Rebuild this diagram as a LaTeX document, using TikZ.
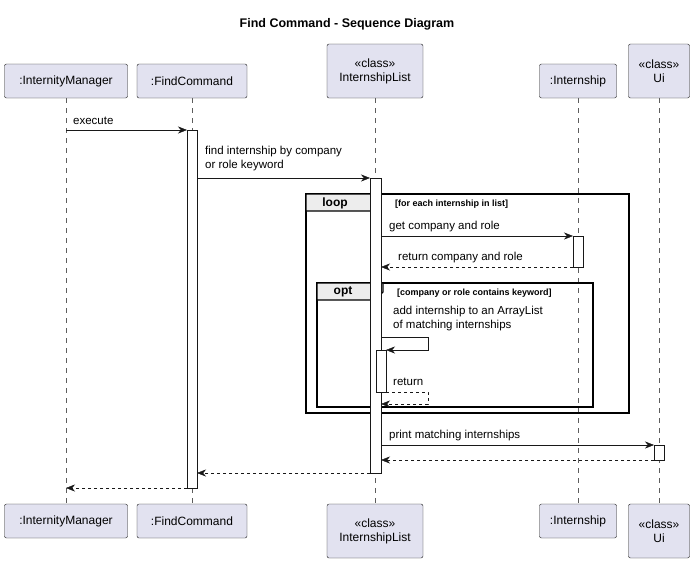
\documentclass[tikz,border=0pt]{standalone}
\usepackage{fontspec}
\setmainfont{Liberation Sans}
\usetikzlibrary{arrows.meta}
\definecolor{pbox}{HTML}{E2E2F0}
\definecolor{pline}{HTML}{181818}
\begin{document}
\begin{tikzpicture}[x=1pt,y=-1pt,
  part/.style={draw=pline,fill=pbox,rounded corners=2pt,align=center,font=\fontsize{12}{14}\selectfont,inner sep=0pt},
  life/.style={draw=pline!70,dashed,dash pattern=on 5pt off 5pt,thin},
  act/.style={draw=pline,fill=white},
  msg/.style={draw=pline,-{Stealth[length=9pt,width=7pt]}},
  ret/.style={msg,dashed,dash pattern=on 3pt off 3pt},
  lab/.style={font=\fontsize{11.5}{14}\selectfont,anchor=west,inner sep=0pt,align=left},
  fr/.style={draw=black,line width=1.3pt},
  grd/.style={font=\bfseries\fontsize{9}{11}\selectfont,anchor=west,inner sep=0pt}]
\useasboundingbox (0,0) rectangle (695,560);
\node[font=\bfseries\fontsize{12.5}{15}\selectfont] (title) at (347,24) {Find Command - Sequence Diagram};
% lifelines
\foreach \x in {66,192,375,578,659}{\draw[life] (\x,98) -- (\x,504);}
% top participants
\node[part,minimum width=123,minimum height=34] (im) at (66,81) {:InternityManager};
\node[part,minimum width=110,minimum height=34] (fc) at (192,81) {:FindCommand};
\node[part,minimum width=96,minimum height=54] (il) at (375,71) {«class»\\InternshipList};
\node[part,minimum width=77,minimum height=34] (in) at (578,81) {:Internship};
\node[part,minimum width=61,minimum height=54] (ui) at (659,71) {«class»\\Ui};
% bottom participants
\node[part,minimum width=123,minimum height=34] (im2) at (66,521) {:InternityManager};
\node[part,minimum width=110,minimum height=34] (fc2) at (192,521) {:FindCommand};
\node[part,minimum width=96,minimum height=54] (il2) at (375,531) {«class»\\InternshipList};
\node[part,minimum width=77,minimum height=34] (in2) at (578,521) {:Internship};
\node[part,minimum width=61,minimum height=54] (ui2) at (659,531) {«class»\\Ui};
% frames
\draw[fr] (306,194) rectangle (629,413);
\draw[fr,fill=black!7] (306,211) -- (306,194) -- (381,194) -- (381,203) -- (372,211) -- cycle;
\node[font=\bfseries\fontsize{12}{14}\selectfont] (lp) at (335,203) {loop};
\node[grd] (lg) at (395,204) {[for each internship in list]};
\draw[fr] (317,283) rectangle (593,407);
\draw[fr,fill=black!7] (317,300) -- (317,283) -- (383,283) -- (383,292) -- (374,300) -- cycle;
\node[font=\bfseries\fontsize{12}{14}\selectfont] (op) at (343,292) {opt};
\node[grd] (og) at (397,293) {[company or role contains keyword]};
% activations
\draw[act] (187,130) rectangle (197,488);
\draw[act] (370,178) rectangle (381,473);
\draw[act] (573,236) rectangle (583,267);
\draw[act] (376,350) rectangle (386,392);
\draw[act] (654,445) rectangle (664,460);
% coordinates
\coordinate (a1) at (66,130); \coordinate (a2) at (187,130);
\coordinate (b1) at (197,178); \coordinate (b2) at (370,178);
\coordinate (c1) at (381,236); \coordinate (c2) at (573,236);
\coordinate (d1) at (573,267); \coordinate (d2) at (381,267);
\coordinate (e1) at (381,337); \coordinate (e2) at (386,350);
\coordinate (f1) at (386,392); \coordinate (f2) at (381,404);
\coordinate (g1) at (381,445); \coordinate (g2) at (654,445);
\coordinate (h1) at (654,460); \coordinate (h2) at (381,460);
\coordinate (i1) at (370,473); \coordinate (i2) at (197,473);
\coordinate (j1) at (187,488); \coordinate (j2) at (66,488);
% messages
\draw[msg] (a1) -- (a2); \node[lab] (la) at (73,121) {execute};
\draw[msg] (b1) -- (b2); \node[lab] (lb) at (205,159) {find internship by company\\or role keyword};
\draw[msg] (c1) -- (c2); \node[lab] (lc) at (389,227) {get company and role};
\draw[ret] (d1) -- (d2); \node[lab] (ld) at (398,258) {return company and role};
\draw[msg] (e1) -- (428,337) -- (428,350) -- (e2); \node[lab] (le) at (393,319) {add internship to an ArrayList\\of matching internships};
\draw[ret] (f1) -- (428,392) -- (428,404) -- (f2); \node[lab] (lf) at (393,382) {return};
\draw[msg] (g1) -- (g2); \node[lab] (lg2) at (389,436) {print matching internships};
\draw[ret] (h1) -- (h2);
\draw[ret] (i1) -- (i2);
\draw[ret] (j1) -- (j2);
\end{tikzpicture}
\end{document}
